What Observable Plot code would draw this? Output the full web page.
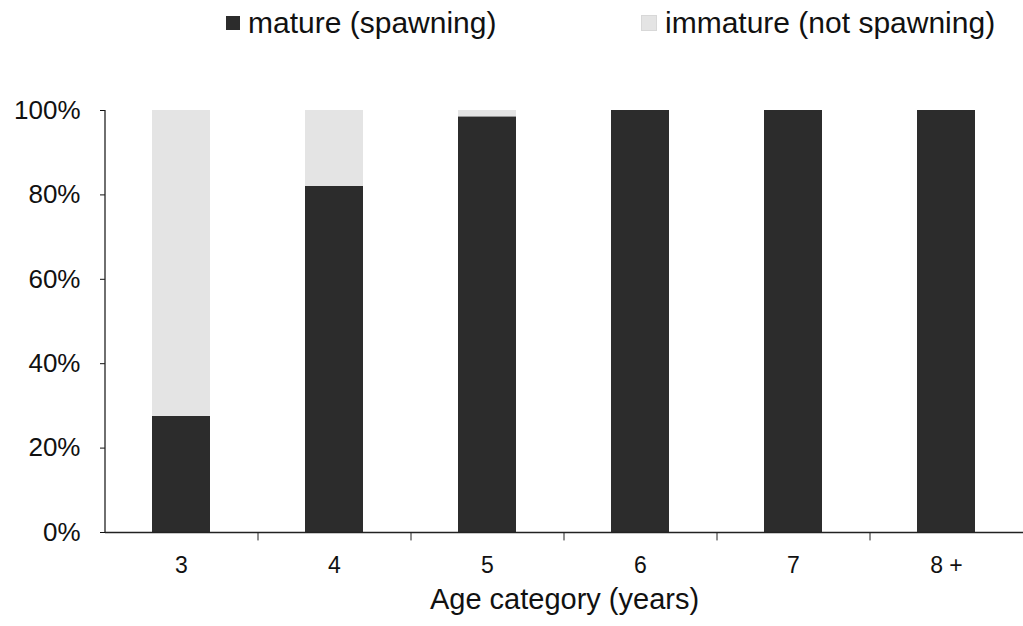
<!DOCTYPE html>
<html>
<head>
<meta charset="utf-8">
<script src="https://cdn.jsdelivr.net/npm/d3@7"></script>
<script src="https://cdn.jsdelivr.net/npm/@observablehq/plot@0.6"></script>
<style>
  html, body { margin: 0; padding: 0; background: #fff; }
  body { width: 1023px; height: 626px; overflow: hidden; font-family: "Liberation Sans", Arial, sans-serif; }
  #legend { height: 60px; position: relative; font-size: 30px; color: #111; }
  .item { position: absolute; top: 6px; display: flex; align-items: center; white-space: nowrap; }
  .sw { width: 14px; height: 14px; margin-right: 8px; }
</style>
</head>
<body>
<div id="legend"></div>
<div id="chart"></div>
<script>
const categories = ["3", "4", "5", "6", "7", "8 +"];
const matureValues = [27.5, 82, 98.5, 100, 100, 100];
const immatureValues = [72.5, 18, 1.5, 0, 0, 0];
const seriesNames = ["mature (spawning)", "immature (not spawning)"];
const seriesColors = ["#2c2c2c", "#e4e4e4"];
const yTicks = [0, 20, 40, 60, 80, 100];

const rows = [];
categories.forEach((c, i) => {
  rows.push({age: c, series: seriesNames[0], value: matureValues[i]});
  rows.push({age: c, series: seriesNames[1], value: immatureValues[i]});
});

// legend
const legend = document.getElementById("legend");
const legendX = [226, 641];
seriesNames.forEach((name, i) => {
  const it = document.createElement("div");
  it.className = "item";
  it.style.left = legendX[i] + "px";
  const sw = document.createElement("div");
  sw.className = "sw";
  sw.style.background = seriesColors[i];
  if (i === 1) sw.style.border = "1px solid #d8d8d8";
  it.appendChild(sw);
  const t = document.createElement("span");
  t.textContent = name;
  it.appendChild(t);
  legend.appendChild(it);
});

const plot = Plot.plot({
  width: 1023,
  height: 566,
  marginTop: 50,
  marginBottom: 94,
  marginLeft: 105,
  marginRight: 0,
  style: {fontFamily: "Liberation Sans, Arial, sans-serif", fontSize: "26px", color: "#111", background: "#fff"},
  x: {domain: categories, paddingInner: 0.62, paddingOuter: 0.31, label: null},
  y: {domain: [0, 100], label: null},
  color: {domain: seriesNames, range: seriesColors},
  marks: [
    Plot.barY(rows, {x: "age", y: "value", fill: "series", order: seriesNames}),
    Plot.axisY({ticks: yTicks, tickFormat: d => d + "%", tickSize: 5, tickPadding: 20, fontSize: 26, label: null}),
    Plot.axisX({tickSize: 0, tickPadding: 24, fontSize: 23, label: null}),
    Plot.ruleX(categories.slice(1), {x: d => d, y1: 0, y2: -2, dx: -76.5, stroke: "#222"}),
    Plot.ruleX([0], {x: () => categories[0], y1: 0, y2: 100, dx: -76.5, stroke: "#222", strokeWidth: 1.3}),
    Plot.ruleY([0], {stroke: "#222", strokeWidth: 1.5}),
    Plot.text(["Age category (years)"], {frameAnchor: "bottom", dy: 76, fontSize: 29, fill: "#111"})
  ]
});
document.getElementById("chart").appendChild(plot);
</script>
</body>
</html>
